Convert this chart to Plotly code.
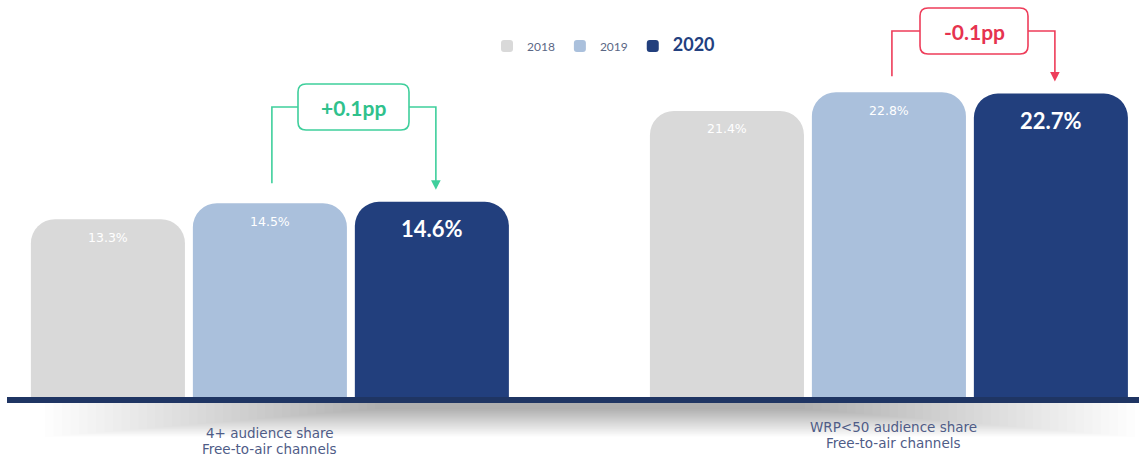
import plotly.graph_objects as go

# ---------------- data ----------------
categories = [["4+ audience share", "Free-to-air channels"],
              ["WRP&lt;50 audience share", "Free-to-air channels"]]
years = ["2018", "2019", "2020"]
values_2018 = [13.3, 21.4]
values_2019 = [14.5, 22.8]
values_2020 = [14.6, 22.7]
changes = ["+0.1pp", "-0.1pp"]

# ---------------- layout constants ----------------
W, H = 1139, 458
MB = 61
PH = H - MB                 # plot height in px
XMIN, XMAX = -0.436, 1.404
YMAX = 29.7
BARGAP = 0.215
GROUPGAP = 0.049

colors = {"2018": "#d9d9d9", "2019": "#aac0dc", "2020": "#223f7d"}
FONT = "Lato, 'Open Sans', sans-serif"
FONT_WIDE = "'DejaVu Sans', sans-serif"
UNIT_PX = W / (XMAX - XMIN)
SLOT_PX = (1 - BARGAP) * UNIT_PX / 3


def px(x):
    return x / W


def py(y):
    return (PH - y) / PH


def cx(j):
    return (j - XMIN) * UNIT_PX


def ypx(v):
    return PH - v * PH / YMAX


def rrect(x0, y0, x1, y1, r):
    pts = [("M", [(x0 + r, y0)]), ("L", [(x1 - r, y0)]), ("Q", [(x1, y0), (x1, y0 + r)]),
           ("L", [(x1, y1 - r)]), ("Q", [(x1, y1), (x1 - r, y1)]), ("L", [(x0 + r, y1)]),
           ("Q", [(x0, y1), (x0, y1 - r)]), ("L", [(x0, y0 + r)]), ("Q", [(x0, y0), (x0 + r, y0)])]
    s = ""
    for cmd, ps in pts:
        s += cmd + " ".join(f"{px(a):.5f},{py(b):.5f}" for a, b in ps) + " "
    return s + "Z"


def poly(points):
    return "M" + " L".join(f"{px(a):.5f},{py(b):.5f}" for a, b in points)


fig = go.Figure()
series = {"2018": values_2018, "2019": values_2019, "2020": values_2020}
legend_names = {"2018": "2018", "2019": "2019",
                "2020": "<span style='font-size:18px;color:#22407f'><b>2020</b></span>"}
for yr in years:
    fig.add_trace(go.Bar(
        x=[0, 1], y=series[yr], name=legend_names[yr],
        marker=dict(color=colors[yr], line=dict(width=0)),
        hoverinfo="skip",
    ))

shapes = []
annotations = []

# soft shadow under the base line
N = 40
for i in range(N):
    t = i / (N - 1)
    hw = 545 - t * 330
    hh = 34 - t * 28
    shapes.append(dict(type="rect", xref="paper", yref="paper",
                       x0=px(590 - hw), x1=px(590 + hw), y0=py(403 + hh), y1=py(403),
                       fillcolor="rgba(0,0,0,0.008)", line=dict(width=0)))
# base line
shapes.append(dict(type="rect", xref="paper", yref="paper", x0=px(7), x1=px(W + 2),
                   y0=py(403), y1=py(397), fillcolor="#1f3563", line=dict(width=0),
                   layer="above"))

# value labels
offsets = {"2018": -SLOT_PX, "2019": 0.0, "2020": SLOT_PX}
for yr in years:
    for j, v in enumerate(series[yr]):
        big = yr == "2020"
        annotations.append(dict(
            x=j, y=v, xref="x", yref="y", xshift=offsets[yr],
            yshift=-27 if big else -18,
            text=(f"<b>{v:.1f}%</b>" if big else f"{v:.1f}%"),
            showarrow=False, xanchor="center", yanchor="middle",
            font=dict(family=FONT if big else FONT_WIDE, size=22 if big else 12.5,
                      color="#ffffff"),
        ))

# category labels (one annotation per line for tight line spacing)
label_y = [(433, 449), (427, 443)]
label_dx = [0, 5]
for j, lines in enumerate(categories):
    for line, ly in zip(lines, label_y[j]):
        annotations.append(dict(x=j, y=py(ly), xref="x", yref="paper", xshift=label_dx[j],
                                text=line, showarrow=False, xanchor="center", yanchor="middle",
                                font=dict(family=FONT_WIDE, size=13.5, color="#4f5c87")))

# change call-outs
callouts = [
    dict(box=(298, 84, 409, 130), color="#3fcf9c", text_color="#2fc18c",
         lx=cx(0) + 2, rx=cx(0) + SLOT_PX + 4, j=0, ltop=20, rtip=12),
    dict(box=(920, 8, 1028, 54), color="#ee3d5a", text_color="#e6334f",
         lx=cx(1) + 3, rx=cx(1) + SLOT_PX + 4, j=1, ltop=16, rtip=12),
]
for k, c in enumerate(callouts):
    x0, y0, x1, y1 = c["box"]
    ym = (y0 + y1) / 2
    shapes.append(dict(type="path", xref="paper", yref="paper", path=rrect(x0, y0, x1, y1, 8),
                       line=dict(color=c["color"], width=1.6), fillcolor="white"))
    left_end = ypx(values_2019[c["j"]]) - c["ltop"]
    tip = ypx(values_2020[c["j"]]) - c["rtip"]
    shapes.append(dict(type="path", xref="paper", yref="paper",
                       path=poly([(x0, ym), (c["lx"], ym), (c["lx"], left_end)]),
                       line=dict(color=c["color"], width=1.6)))
    shapes.append(dict(type="path", xref="paper", yref="paper",
                       path=poly([(x1, ym), (c["rx"], ym), (c["rx"], tip - 6)]),
                       line=dict(color=c["color"], width=1.6)))
    annotations.append(dict(x=px(c["rx"]), y=py(tip), xref="paper", yref="paper",
                            ax=0, ay=-10, showarrow=True, arrowhead=2, arrowsize=1.2,
                            arrowwidth=1.6, arrowcolor=c["color"], standoff=0, text=""))
    annotations.append(dict(x=px((x0 + x1) / 2), y=py(ym + 1), xref="paper", yref="paper",
                            xanchor="center", yanchor="middle",
                            text=f"<b>{changes[k]}</b>", showarrow=False,
                            font=dict(family=FONT, size=21, color=c["text_color"])))

fig.update_layout(
    width=W, height=H,
    margin=dict(l=0, r=0, t=0, b=MB),
    paper_bgcolor="white", plot_bgcolor="white",
    barmode="group", bargap=BARGAP, bargroupgap=GROUPGAP, barcornerradius=24,
    xaxis=dict(range=[XMIN, XMAX], visible=False, fixedrange=True),
    yaxis=dict(range=[0, YMAX], visible=False, fixedrange=True),
    showlegend=True,
    legend=dict(orientation="h", x=px(487), xanchor="left", y=py(46), yanchor="middle",
                font=dict(family=FONT, size=12, color="#5b6785"),
                itemwidth=30, tracegroupgap=0,
                bgcolor="rgba(0,0,0,0)", traceorder="normal"),
    shapes=shapes, annotations=annotations,
    hovermode=False,
)

fig.write_html("out.html")
